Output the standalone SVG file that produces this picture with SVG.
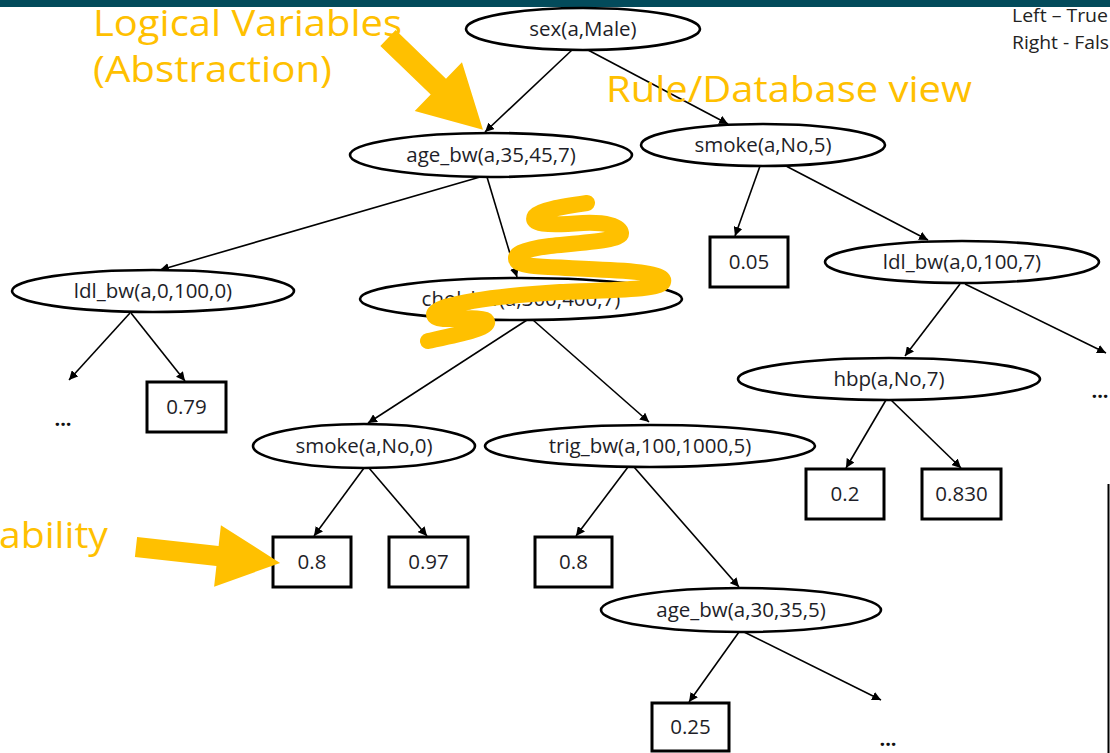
<svg xmlns="http://www.w3.org/2000/svg" width="1110" height="753" viewBox="0 0 1110 753">
  <defs>
    <marker id="arrow" viewBox="0 0 10 10" refX="10" refY="5" markerWidth="9" markerHeight="9" markerUnits="userSpaceOnUse" orient="auto">
      <path d="M0,0 L10,5 L0,10 z" fill="#000"/>
    </marker>
    <style>
      .node ellipse { fill: #fff; stroke: #000; stroke-width: 2.6; }
      .leaf rect { fill: #fff; stroke: #000; stroke-width: 3; }
      .lbl { font-family: "Open Sans", "Liberation Sans", sans-serif; font-size: 20.5px; fill: #1e1e28; text-anchor: middle; }
      .dots { font-family: "Open Sans", "Liberation Sans", sans-serif; font-size: 20px; font-weight: bold; fill: #111; text-anchor: middle; }
      .edges line { stroke: #000; stroke-width: 1.6; marker-end: url(#arrow); }
      .note { font-family: "Open Sans", "Liberation Sans", sans-serif; font-size: 36px; fill: #ffc000; }
      .legend { font-family: "Open Sans", "Liberation Sans", sans-serif; font-size: 18.5px; fill: #222; }
      .callout { fill: #ffc000; }
    </style>
  </defs>

  <rect x="0" y="0" width="1110" height="753" fill="#fff"/>
  <rect x="0" y="0" width="1110" height="7" fill="#034b5b"/>

  <!-- legend -->
  <text class="legend" x="1012" y="22" textLength="96" lengthAdjust="spacingAndGlyphs">Left – True</text>
  <text class="legend" x="1012" y="49" textLength="97" lengthAdjust="spacingAndGlyphs">Right - Fals</text>
  <line x1="1108.5" y1="484" x2="1108.5" y2="753" stroke="#000" stroke-width="2"/>

  <!-- connectors -->
  <g id="edges" class="edges">
    <line x1="572" y1="50" x2="485" y2="132"/>
    <line x1="588" y1="50" x2="728" y2="124"/>
    <line x1="480" y1="177" x2="160" y2="270"/>
    <line x1="487" y1="177" x2="517" y2="277"/>
    <line x1="760" y1="166" x2="735" y2="236"/>
    <line x1="786" y1="166" x2="928" y2="240"/>
    <line x1="130" y1="313" x2="69" y2="380"/>
    <line x1="131" y1="313" x2="185" y2="381"/>
    <line x1="527" y1="320" x2="368" y2="423"/>
    <line x1="533" y1="320" x2="649" y2="422"/>
    <line x1="960" y1="284" x2="905" y2="356"/>
    <line x1="965" y1="284" x2="1106" y2="353"/>
    <line x1="364" y1="468" x2="314" y2="536"/>
    <line x1="369" y1="468" x2="427" y2="536"/>
    <line x1="628" y1="467" x2="576" y2="536"/>
    <line x1="634" y1="467" x2="739" y2="587"/>
    <line x1="886" y1="400" x2="846" y2="468"/>
    <line x1="891" y1="400" x2="961" y2="468"/>
    <line x1="739" y1="632" x2="689" y2="702"/>
    <line x1="744" y1="632" x2="881" y2="700"/>
  </g>

  <!-- test nodes -->
  <g id="n-sex-male" class="node"><ellipse cx="583" cy="29" rx="117" ry="21"/><text class="lbl" x="583" y="36">sex(a,Male)</text></g>
  <g id="n-age-35-45" class="node"><ellipse cx="491" cy="155" rx="141" ry="22"/><text class="lbl" x="491" y="162">age_bw(a,35,45,7)</text></g>
  <g id="n-smoke-5" class="node"><ellipse cx="763" cy="145" rx="122" ry="21"/><text class="lbl" x="763" y="152">smoke(a,No,5)</text></g>
  <g id="n-ldl-0" class="node"><ellipse cx="153" cy="291" rx="141" ry="21"/><text class="lbl" x="153" y="298">ldl_bw(a,0,100,0)</text></g>
  <g id="n-chol" class="node"><ellipse cx="521" cy="299" rx="161" ry="21"/><text class="lbl" x="521" y="306">chol_bw(a,300,400,7)</text></g>
  <g id="n-ldl-7" class="node"><ellipse cx="962" cy="262" rx="137" ry="21"/><text class="lbl" x="962" y="269">ldl_bw(a,0,100,7)</text></g>
  <g id="n-hbp" class="node"><ellipse cx="889" cy="379" rx="151" ry="21"/><text class="lbl" x="889" y="386">hbp(a,No,7)</text></g>
  <g id="n-smoke-0" class="node"><ellipse cx="364" cy="446" rx="111" ry="22"/><text class="lbl" x="364" y="453">smoke(a,No,0)</text></g>
  <g id="n-trig" class="node"><ellipse cx="650" cy="446" rx="165" ry="21"/><text class="lbl" x="650" y="453">trig_bw(a,100,1000,5)</text></g>
  <g id="n-age-30-35" class="node"><ellipse cx="741" cy="610" rx="140" ry="22"/><text class="lbl" x="741" y="617">age_bw(a,30,35,5)</text></g>

  <!-- probability leaves -->
  <g id="p-079" class="leaf"><rect x="147" y="382" width="79" height="50"/><text class="lbl" x="186.5" y="414">0.79</text></g>
  <g id="p-005" class="leaf"><rect x="710" y="237" width="78" height="50"/><text class="lbl" x="749" y="269">0.05</text></g>
  <g id="p-08a" class="leaf"><rect x="273" y="537" width="78" height="50"/><text class="lbl" x="312" y="569">0.8</text></g>
  <g id="p-097" class="leaf"><rect x="389" y="537" width="79" height="50"/><text class="lbl" x="428.5" y="569">0.97</text></g>
  <g id="p-08b" class="leaf"><rect x="535" y="537" width="77" height="50"/><text class="lbl" x="573.5" y="569">0.8</text></g>
  <g id="p-02" class="leaf"><rect x="806" y="469" width="78" height="50"/><text class="lbl" x="845" y="501">0.2</text></g>
  <g id="p-0830" class="leaf"><rect x="922" y="469" width="79" height="50"/><text class="lbl" x="961.5" y="501">0.830</text></g>
  <g id="p-025" class="leaf"><rect x="652" y="703" width="77" height="48"/><text class="lbl" x="690.5" y="734">0.25</text></g>

  <!-- elided subtrees -->
  <g id="more-left"><text class="dots" x="63" y="426">...</text></g>
  <g id="more-right"><text class="dots" x="1100" y="398">...</text></g>
  <g id="more-bottom"><text class="dots" x="888" y="746">...</text></g>

  <!-- highlighted annotations -->
  <text class="note" x="93" y="36" textLength="309" lengthAdjust="spacingAndGlyphs">Logical Variables</text>
  <text class="note" x="93" y="82" textLength="239" lengthAdjust="spacingAndGlyphs">(Abstraction)</text>
  <text class="note" x="606" y="102" textLength="366" lengthAdjust="spacingAndGlyphs">Rule/Database view</text>
  <text class="note" x="-1" y="548" textLength="109" lengthAdjust="spacingAndGlyphs">ability</text>

  <polygon class="callout" transform="translate(388,38) rotate(44)" points="0,-11 70,-11 70,-34 132,0 70,34 70,11 0,11"/>
  <polygon class="callout" transform="translate(136,547) rotate(6.3)" points="0,-10 82,-10 82,-31 145,0 82,31 82,10 0,10"/>

  <path d="M587,203 C560,207 540,210 535,216 C530,224 545,226 583,223 C605,222 620,226 621,233 C622,240 590,242 550,246 C520,250 513,255 517,261 C522,268 560,267 610,270 C650,272 665,276 663,282 C660,289 620,290 560,292 C510,295 470,300 445,307 C428,313 432,320 450,319 C470,318 489,317 487,323 C485,329 460,334 428,341"
        fill="none" stroke="#ffc000" stroke-width="16" stroke-linecap="round" stroke-linejoin="round"/>
</svg>
